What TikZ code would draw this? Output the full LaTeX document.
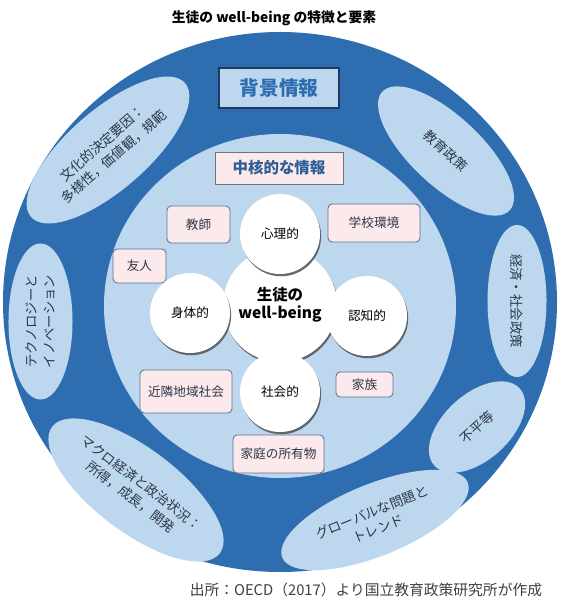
\documentclass[tikz,border=0pt]{standalone}
\usepackage{fontspec}
\setmainfont{Noto Sans CJK JP}
\usetikzlibrary{shapes.geometric,shadows}
\definecolor{ringblue}{RGB}{46,110,176}
\definecolor{paleblue}{RGB}{189,215,238}
\definecolor{palepink}{RGB}{252,233,236}
\definecolor{boxedge}{RGB}{90,112,145}
\definecolor{navy}{RGB}{31,58,96}
\definecolor{inktext}{RGB}{45,55,72}
\tikzset{
    factor/.style={ellipse, fill=paleblue, inner sep=0pt, align=center, text=inktext, font=\fontsize{9.5}{12.5}\selectfont},
    pinkbox/.style={draw=boxedge, fill=palepink, rounded corners=3pt, line width=0.6pt, inner sep=0pt, text=inktext, font=\fontsize{9}{11}\selectfont},
    aspect/.style={circle, fill=white, minimum size=2cm, inner sep=0pt, text=black, font=\fontsize{9}{11}\selectfont,
        drop shadow={shadow xshift=0.8pt, shadow yshift=-1.6pt, fill=black!65, opacity=0.9}}
}
\begin{document}
\begin{tikzpicture}[x=0.025cm, y=0.025cm]
            \fill[white] (-280,-307) rectangle (280,302);
            \useasboundingbox (-280,-307) rectangle (280,302);
            \node[font=\bfseries\fontsize{9.8}{12}\selectfont] (title) at (-6,284) {生徒の well-being の特徴と要素};
            \fill[ringblue] (0,0) ellipse [x radius=277, y radius=270];
            \fill[paleblue] (0,-4) ellipse [x radius=176, y radius=172];
            \node[factor, rotate=41, minimum width=5.1cm, minimum height=2cm] (culture) at (-172,152) {文化的決定要因：\\多様性，価値観，規範};
            \node[factor, rotate=-43, minimum width=4.35cm, minimum height=1.75cm] (edupolicy) at (166,151) {教育政策};
            \node[factor, rotate=-90, minimum width=3.8cm, minimum height=1.475cm] (econpolicy) at (237,1) {経済・社会政策};
            \node[factor, rotate=42, minimum width=2.875cm, minimum height=1.65cm] (inequality) at (197,-125) {不平等};
            \node[factor, rotate=22, minimum width=5cm, minimum height=1.8cm] (globaltrend) at (95,-218) {グローバルな問題と\\トレンド};
            \node[factor, rotate=-37, minimum width=5.25cm, minimum height=2.1cm] (macroecon) at (-144,-188) {マクロ経済と政治状況：\\所得，成長，開発};
            \node[factor, rotate=90, minimum width=3.9cm, minimum height=1.6cm] (technology) at (-239.5,-19.5) {テクノロジーと\\イノベーション};
            \node[draw=navy, line width=0.9pt, fill=paleblue, minimum width=3cm, minimum height=1cm, text=ringblue, font=\bfseries\fontsize{14}{16}\selectfont] (background) at (-1,214) {背景情報};
            \node[draw=black!55, line width=0.6pt, fill=palepink, minimum width=3.2cm, minimum height=0.8cm, text={rgb,255:red,45;green,95;blue,150}, font=\bfseries\fontsize{11}{13}\selectfont] (core) at (-1,134) {中核的な情報};
            \node[pinkbox, minimum width=1.575cm, minimum height=0.925cm] (teacher) at (-81.5,77.5) {教師};
            \node[pinkbox, minimum width=2.3cm, minimum height=0.95cm] (school) at (94,79) {学校環境};
            \node[pinkbox, minimum width=1.325cm, minimum height=0.85cm] (friend) at (-140.5,36) {友人};
            \node[pinkbox, minimum width=2.3cm, minimum height=1.075cm] (neighbor) at (-94,-89.5) {近隣地域社会};
            \node[pinkbox, minimum width=1.425cm, minimum height=0.625cm] (family) at (84.5,-82.5) {家族};
            \node[pinkbox, minimum width=2.275cm, minimum height=0.95cm] (possession) at (-1.5,-152) {家庭の所有物};
            \node[aspect, minimum size=2.85cm, align=center, font=\bfseries\fontsize{11}{13}\selectfont] (student) at (0,-3) {生徒の\\well-being};
            \node[aspect] (mental) at (0,68) {心理的};
            \node[aspect] (physical) at (-90,-11) {身体的};
            \node[aspect] (cognitive) at (87,-14) {認知的};
            \node[aspect] (social) at (0,-90) {社会的};
            \node[anchor=east, text=black!75, font=\fontsize{10.5}{12}\selectfont] (source) at (267,-288) {出所：OECD（2017）より国立教育政策研究所が作成};
        \end{tikzpicture}
\end{document}
